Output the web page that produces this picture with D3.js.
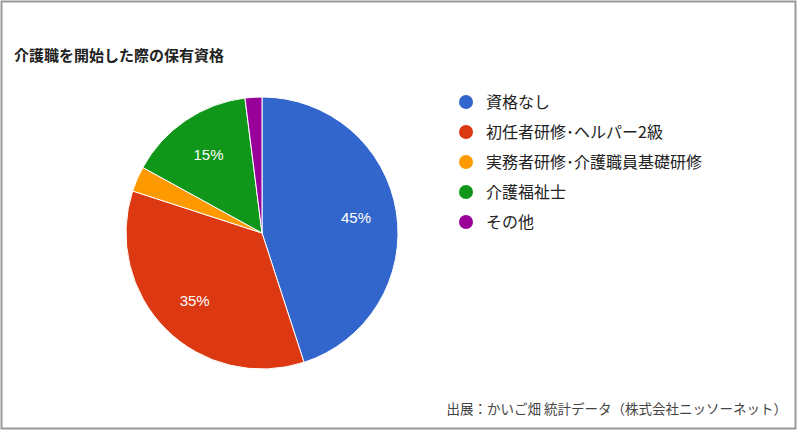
<!DOCTYPE html>
<html><head><meta charset="utf-8">
<script src="https://cdn.jsdelivr.net/npm/d3@7"></script>
<style>body{margin:0;background:#fff}</style>
</head><body>
<svg id="chart" width="800" height="433"></svg>
<script>
const categories = ["資格なし", "初任者研修･ヘルパー2級", "実務者研修･介護職員基礎研修", "介護福祉士", "その他"];
const values = [45, 35, 3, 15, 2];
const colors = ["#3366cc", "#dc3912", "#ff9900", "#109618", "#990099"];

const svg = d3.select("#chart");
const font = "'Noto Sans CJK JP', sans-serif";

svg.append("rect").attr("x", 1.5).attr("y", 1.5).attr("width", 794).attr("height", 427)
    .attr("fill", "#fff").attr("stroke", "#999").attr("stroke-width", 2);

svg.append("text").attr("x", 14).attr("y", 61).text("介護職を開始した際の保有資格")
    .attr("font-family", font).attr("font-size", 15).attr("font-weight", "bold").attr("fill", "#222");

const cx = 262, cy = 233, r = 136;
const pie = d3.pie().sort(null).value(d => d)(values);
const arc = d3.arc().innerRadius(0).outerRadius(r);
const labelArc = d3.arc().innerRadius(r * 0.7).outerRadius(r * 0.7);
const g = svg.append("g").attr("transform", `translate(${cx},${cy})`);
g.selectAll("path").data(pie).enter().append("path")
    .attr("d", arc).attr("fill", (d, i) => colors[i]).attr("stroke", "#fff").attr("stroke-width", 1);
g.selectAll("text").data(pie.filter(d => d.data >= 10)).enter().append("text")
    .attr("transform", d => `translate(${labelArc.centroid(d)})`)
    .attr("text-anchor", "middle").attr("dy", "0.35em")
    .attr("font-family", "Arial, 'Liberation Sans', sans-serif").attr("font-size", 15).attr("fill", "#fff")
    .text(d => d.data + "%");

const leg = svg.append("g").selectAll("g").data(categories).enter().append("g")
    .attr("transform", (d, i) => `translate(466,${102 + i * 30})`);
leg.append("circle").attr("r", 7).attr("fill", (d, i) => colors[i]);
leg.append("text").attr("x", 20).attr("dy", "0.35em").text(d => d)
    .attr("font-family", font).attr("font-size", 16).attr("fill", "#222");

svg.append("text").attr("x", 787).attr("y", 414).attr("text-anchor", "end")
    .text("出展：かいご畑 統計データ（株式会社ニッソーネット）")
    .attr("font-family", font).attr("font-size", 13.5).attr("fill", "#444");
</script>
</body></html>
